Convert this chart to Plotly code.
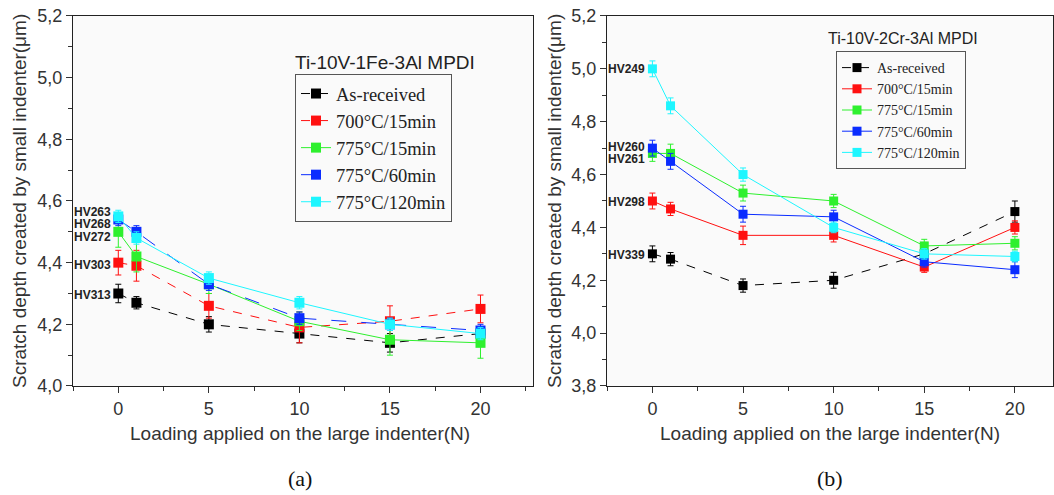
import plotly.graph_objects as go

# Loading on the large indenter (N)
loads = [0, 1, 5, 10, 15, 20]
series_names = ["As-received", "700°C/15min", "775°C/15min", "775°C/60min", "775°C/120min"]

# (a) Ti-10V-1Fe-3Al MPDI
a_as_received = [4.30, 4.27, 4.20, 4.17, 4.14, 4.17]
a_700_15 = [4.40, 4.39, 4.26, 4.19, 4.21, 4.25]
a_775_15 = [4.50, 4.42, 4.33, 4.21, 4.15, 4.14]
a_775_60 = [4.54, 4.50, 4.33, 4.22, 4.20, 4.18]
a_775_120 = [4.55, 4.48, 4.35, 4.27, 4.20, 4.17]
a_err_as_received = [0.03, 0.02, 0.025, 0.03, 0.03, 0.02]
a_err_700_15 = [0.04, 0.05, 0.04, 0.05, 0.05, 0.045]
a_err_775_15 = [0.05, 0.05, 0.03, 0.03, 0.05, 0.05]
a_err_775_60 = [0.02, 0.02, 0.02, 0.02, 0.02, 0.02]
a_err_775_120 = [0.02, 0.02, 0.02, 0.02, 0.02, 0.02]
a_hv = ["HV263", "HV268", "HV272", "HV303", "HV313"]

# (b) Ti-10V-2Cr-3Al MPDI
b_as_received = [4.30, 4.28, 4.18, 4.20, 4.30, 4.46]
b_700_15 = [4.50, 4.47, 4.37, 4.37, 4.25, 4.40]
b_775_15 = [4.68, 4.68, 4.53, 4.50, 4.33, 4.34]
b_775_60 = [4.70, 4.65, 4.45, 4.44, 4.27, 4.24]
b_775_120 = [5.00, 4.86, 4.60, 4.40, 4.30, 4.29]
b_err_as_received = [0.03, 0.025, 0.025, 0.03, 0.02, 0.04]
b_err_700_15 = [0.03, 0.025, 0.035, 0.025, 0.02, 0.025]
b_err_775_15 = [0.03, 0.035, 0.03, 0.025, 0.025, 0.025]
b_err_775_60 = [0.03, 0.03, 0.03, 0.025, 0.02, 0.03]
b_err_775_120 = [0.03, 0.03, 0.025, 0.02, 0.02, 0.02]
b_hv = ["HV249", "HV260", "HV261", "HV298", "HV339"]

colors = ["#000000", "#ff1010", "#2ef02e", "#0a2cff", "#1ef6ff"]
a_dash = ["dash", "dash", "solid", "longdash", "solid"]
b_dash = ["dash", "solid", "solid", "solid", "solid"]

a_vals = [a_as_received, a_700_15, a_775_15, a_775_60, a_775_120]
a_errs = [a_err_as_received, a_err_700_15, a_err_775_15, a_err_775_60, a_err_775_120]
b_vals = [b_as_received, b_700_15, b_775_15, b_775_60, b_775_120]
b_errs = [b_err_as_received, b_err_700_15, b_err_775_15, b_err_775_60, b_err_775_120]

fig = go.Figure()

for i, name in enumerate(series_names):
    fig.add_trace(go.Scatter(
        x=loads, y=a_vals[i], name=name, mode="lines+markers",
        line=dict(color=colors[i], width=1, dash=a_dash[i]),
        marker=dict(symbol="square", size=10, color=colors[i]),
        error_y=dict(type="data", array=a_errs[i], color=colors[i], thickness=1, width=3),
        xaxis="x", yaxis="y", legend="legend",
    ))
for i, name in enumerate(series_names):
    fig.add_trace(go.Scatter(
        x=loads, y=b_vals[i], name=name, mode="lines+markers",
        line=dict(color=colors[i], width=1, dash=b_dash[i]),
        marker=dict(symbol="square", size=9, color=colors[i]),
        error_y=dict(type="data", array=b_errs[i], color=colors[i], thickness=1, width=3),
        xaxis="x2", yaxis="y2", legend="legend2",
    ))

axis_font = dict(family="Liberation Sans, Arial", size=18, color="#333333")
xcommon = dict(
    tickmode="linear", tick0=0, dtick=5, ticks="outside", ticklen=6, tickwidth=1.3,
    minor=dict(ticks="outside", ticklen=4, dtick=2.5, tick0=0, tickcolor="#333"),
    showline=True, linecolor="#222222", linewidth=1.3, mirror=True, showgrid=False,
    zeroline=False, tickfont=axis_font, tickcolor="#333", automargin=False,
)
ycommon = dict(
    tickmode="linear", dtick=0.2, tickformat=".1f", ticks="outside", ticklen=6, tickwidth=1.3,
    minor=dict(ticks="outside", ticklen=4, dtick=0.1, tickcolor="#333"),
    showline=True, linecolor="#222222", linewidth=1.3, mirror=True, showgrid=False,
    zeroline=False, tickfont=axis_font, tickcolor="#333", automargin=False,
)

fig.update_layout(
    width=1054, height=495,
    margin=dict(l=0, r=0, t=0, b=0),
    paper_bgcolor="white",
    plot_bgcolor="#fafafa",
    separators=", ",
    showlegend=True,
    xaxis=dict(xcommon, domain=[0.0693, 0.5057], range=[-2.5, 22.9], anchor="y"),
    yaxis=dict(ycommon, domain=[0.2202, 0.9677], range=[4.0, 5.2], tick0=4.0, anchor="x"),
    xaxis2=dict(xcommon, domain=[0.576, 0.999], range=[-2.5, 22.1], anchor="y2"),
    yaxis2=dict(ycommon, domain=[0.2202, 0.9677], range=[3.8, 5.2], tick0=3.8, anchor="x2"),
    legend=dict(
        x=295 / 1054, y=1 - 74 / 495, xanchor="left", yanchor="top",
        bgcolor="#fafafa", bordercolor="#555555", borderwidth=1,
        font=dict(family="Liberation Serif, Times New Roman", size=18.5, color="#222"),
        tracegroupgap=0, itemwidth=30,
    ),
    legend2=dict(
        x=836 / 1054, y=1 - 51 / 495, xanchor="left", yanchor="top",
        bgcolor="#fafafa", bordercolor="#555555", borderwidth=1,
        font=dict(family="Liberation Serif, Times New Roman", size=14, color="#222"),
        tracegroupgap=0, itemwidth=30,
    ),
)

annotations = []
# Hardness labels at load 0
a_hv_y = [4.564, 4.525, 4.483, 4.392, 4.295]
b_hv_y = [5.00, 4.704, 4.659, 4.496, 4.296]
hv_font = dict(family="Liberation Sans, Arial", size=12, color="#222")
for label, yv in zip(a_hv, a_hv_y):
    annotations.append(dict(x=0, y=yv, xref="x", yref="y", text="<b>" + label + "</b>",
                            showarrow=False, xanchor="right", xshift=-5, font=hv_font))
for label, yv in zip(b_hv, b_hv_y):
    annotations.append(dict(x=0, y=yv, xref="x2", yref="y2", text="<b>" + label + "</b>",
                            showarrow=False, xanchor="right", xshift=-5, font=hv_font))

# legend titles
annotations.append(dict(x=293 / 1054, y=1 - 62 / 495, xref="paper", yref="paper",
                        text="Ti-10V-1Fe-3Al MPDI", showarrow=False, xanchor="left", yanchor="middle",
                        font=dict(family="Liberation Sans, Arial", size=19, color="#222")))
annotations.append(dict(x=826 / 1054, y=1 - 39 / 495, xref="paper", yref="paper",
                        text="Ti-10V-2Cr-3Al MPDI", showarrow=False, xanchor="left", yanchor="middle",
                        font=dict(family="Liberation Sans, Arial", size=16, color="#222")))

# axis titles
ytitle = "Scratch depth created by small indenter(μm)"
xtitle = "Loading applied on the large indenter(N)"
title_font = dict(family="Liberation Sans, Arial", size=19, color="#333")
for xc in (20, 555):
    annotations.append(dict(x=xc / 1054, y=1 - 201 / 495, xref="paper", yref="paper", text=ytitle,
                            textangle=-90, showarrow=False, xanchor="center", yanchor="middle",
                            font=title_font))
for xc in (300, 830):
    annotations.append(dict(x=xc / 1054, y=1 - 433 / 495, xref="paper", yref="paper", text=xtitle,
                            showarrow=False, xanchor="center", yanchor="middle", font=title_font))

# panel labels
for xc, lab in ((300, "(a)"), (830, "(b)")):
    annotations.append(dict(x=xc / 1054, y=1 - 478 / 495, xref="paper", yref="paper", text=lab,
                            showarrow=False, xanchor="center", yanchor="middle",
                            font=dict(family="Liberation Serif, Times New Roman", size=22, color="#111")))

fig.update_layout(annotations=annotations)

fig.write_html("out.html", config={"displayModeBar": False},
               post_script="document.body.style.margin='0';")
